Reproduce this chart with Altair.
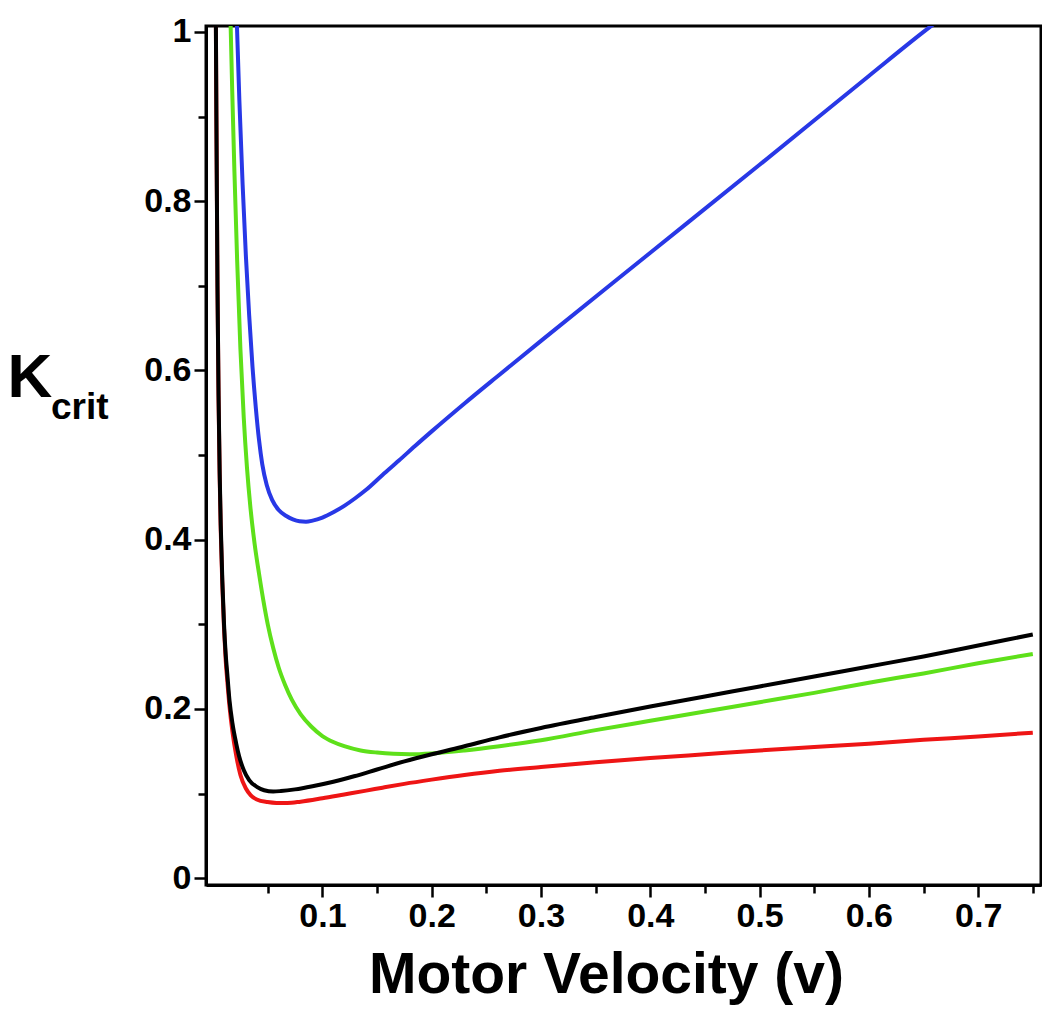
import altair as alt
import pandas as pd

# ---- data ----
blue_v = [0.0215, 0.024, 0.027, 0.030, 0.033, 0.036, 0.039, 0.042, 0.045, 0.049, 0.054, 0.060,
          0.067, 0.073, 0.079, 0.085, 0.091, 0.1, 0.11, 0.12, 0.13, 0.14, 0.155, 0.17, 0.185, 0.2,
          0.23, 0.262, 0.3, 0.4, 0.5, 0.6, 0.65, 0.66]
blue_k = [1.02, 0.92, 0.82, 0.735, 0.665, 0.605, 0.557, 0.518, 0.489, 0.465, 0.447, 0.435,
          0.428, 0.424, 0.4217, 0.4212, 0.4225, 0.4262, 0.4325, 0.440, 0.449, 0.459, 0.4765, 0.4935, 0.511, 0.528,
          0.561, 0.595, 0.635, 0.739, 0.843, 0.948, 1.0, 1.01]

green_v = [0.0158, 0.0175, 0.0195, 0.022, 0.025, 0.028, 0.031, 0.034, 0.038, 0.042, 0.046, 0.050,
           0.055, 0.060, 0.066, 0.072, 0.080, 0.090, 0.100, 0.11, 0.12, 0.135, 0.15, 0.165, 0.18,
           0.2, 0.23, 0.262, 0.3, 0.35, 0.4, 0.45, 0.5, 0.55, 0.6, 0.65, 0.7, 0.75]
green_k = [1.02, 0.93, 0.835, 0.73, 0.625, 0.545, 0.485, 0.44, 0.395, 0.36, 0.328, 0.300,
           0.272, 0.249, 0.228, 0.211, 0.194, 0.179, 0.168, 0.161, 0.156, 0.151, 0.1485, 0.147, 0.1465,
           0.1475, 0.151, 0.156, 0.163, 0.175, 0.186, 0.197, 0.208, 0.219, 0.231, 0.242, 0.254, 0.265]

red_v = [0.0025, 0.003, 0.0035, 0.004, 0.005, 0.006, 0.007, 0.0085, 0.010, 0.0115, 0.013, 0.015,
         0.0177, 0.021, 0.025, 0.03, 0.0345, 0.04, 0.0497, 0.058, 0.068, 0.08, 0.1, 0.12, 0.14,
         0.155, 0.175, 0.2, 0.23, 0.262, 0.3, 0.35, 0.4, 0.45, 0.5, 0.55, 0.6, 0.65, 0.7, 0.75]
red_k = [1.02, 0.9, 0.8, 0.7, 0.565, 0.475, 0.41, 0.345, 0.295, 0.258, 0.233, 0.203,
         0.173, 0.146, 0.122, 0.106, 0.098, 0.093, 0.090, 0.089, 0.089, 0.0905, 0.0945, 0.099, 0.1035,
         0.107, 0.1115, 0.1165, 0.122, 0.127, 0.1315, 0.137, 0.142, 0.1465, 0.151, 0.155, 0.159, 0.1635, 0.1675, 0.172]

black_v = [0.0025, 0.003, 0.0035, 0.004, 0.005, 0.006, 0.007, 0.0085, 0.010, 0.0115, 0.013, 0.015,
           0.0177, 0.021, 0.0238, 0.028, 0.033, 0.04, 0.0467, 0.055, 0.062, 0.075, 0.092, 0.11, 0.129,
           0.15, 0.175, 0.2, 0.23, 0.262, 0.3, 0.35, 0.4, 0.45, 0.5, 0.55, 0.6, 0.65, 0.7, 0.75]
black_k = [1.02, 0.9, 0.8, 0.7, 0.57, 0.48, 0.417, 0.35, 0.30, 0.265, 0.241, 0.21,
           0.183, 0.16, 0.144, 0.128, 0.116, 0.108, 0.104, 0.1025, 0.103, 0.105, 0.109, 0.114, 0.1205,
           0.1285, 0.138, 0.1465, 0.156, 0.1665, 0.1775, 0.1905, 0.203, 0.2148, 0.2266, 0.2384, 0.2502, 0.262, 0.275, 0.288]

series_names = ["blue", "green", "red", "black"]
series_colors = ["#2838e6", "#5ee01a", "#ee1515", "#000000"]

x_major_ticks = [0.1, 0.2, 0.3, 0.4, 0.5, 0.6, 0.7]
x_minor_ticks = [0.05, 0.15, 0.25, 0.35, 0.45, 0.55, 0.65, 0.75]
y_major_ticks = [0, 0.2, 0.4, 0.6, 0.8, 1.0]
y_minor_ticks = [0.1, 0.3, 0.5, 0.7, 0.9]

rows = []
for name, vs, ks in [("blue", blue_v, blue_k), ("green", green_v, green_k),
                     ("red", red_v, red_k), ("black", black_v, black_k)]:
    for i, (v, k) in enumerate(zip(vs, ks)):
        rows.append({"series": name, "v": v, "K": k, "i": i})
df = pd.DataFrame(rows)

FONT = "Liberation Sans"

xs = alt.Scale(domain=[-0.0065, 0.7575], nice=False, zero=False)
ys = alt.Scale(domain=[-0.008, 1.007], nice=False, zero=False)

x_major = alt.Axis(orient="bottom", values=x_major_ticks, format=".1f", grid=False,
                   tickSize=12, tickWidth=2.5, tickColor="black",
                   domainColor="black", domainWidth=3,
                   labelFont=FONT, labelFontWeight="bold", labelFontSize=34, labelColor="black",
                   labelPadding=2,
                   title="Motor Velocity (v)", titleFont=FONT, titleFontWeight="bold",
                   titleFontSize=57, titleColor="black", titleX=400, titleY=107,
                   titleBaseline="alphabetic")
x_minor = alt.Axis(orient="bottom", values=x_minor_ticks, labels=False, grid=False, domain=False,
                   tickSize=8, tickWidth=2.5, tickColor="black", title="")

y_major = alt.Axis(orient="left", values=y_major_ticks, format="~g", grid=False,
                   tickSize=12, tickWidth=2.5, tickColor="black",
                   domainColor="black", domainWidth=3,
                   labelFont=FONT, labelFontWeight="bold", labelFontSize=34, labelColor="black",
                   labelPadding=3,
                   title="K", titleFont=FONT, titleFontWeight="bold", titleFontSize=62,
                   titleColor="black", titleAngle=0, titleAlign="left", titleBaseline="alphabetic",
                   titleX=-199, titleY=370)
y_minor = alt.Axis(orient="left", values=y_minor_ticks, labels=False, grid=False, domain=False,
                   tickSize=8, tickWidth=2.5, tickColor="black", title="")

lines = alt.Chart(df).mark_line(strokeWidth=4, clip=True, interpolate="monotone").encode(
    x=alt.X("v:Q", scale=xs, axis=x_major),
    y=alt.Y("K:Q", scale=ys, axis=y_major),
    color=alt.Color("series:N", scale=alt.Scale(domain=series_names, range=series_colors)),
    detail="series:N",
    order="i:Q",
)

minor = alt.Chart(df).mark_line(strokeOpacity=0, clip=True).encode(
    x=alt.X("v:Q", scale=xs, axis=x_minor),
    y=alt.Y("K:Q", scale=ys, axis=y_minor),
    detail="series:N",
)

sub = alt.Chart(pd.DataFrame({"t": ["crit"]})).mark_text(
    font=FONT, fontWeight="bold", fontSize=37, align="left", baseline="alphabetic", color="black"
).encode(x=alt.value(-155), y=alt.value(393), text="t:N")

chart = alt.layer(minor, lines, sub).resolve_axis(x="independent", y="independent").properties(
    width=835, height=859,
    autosize=alt.AutoSizeParams(type="none"),
    padding={"left": 198, "top": 18, "right": 1, "bottom": 120},
).configure_view(stroke="black", strokeWidth=3).configure_legend(disable=True)

chart.save("out.html", embed_options={"renderer": "svg", "actions": False})
